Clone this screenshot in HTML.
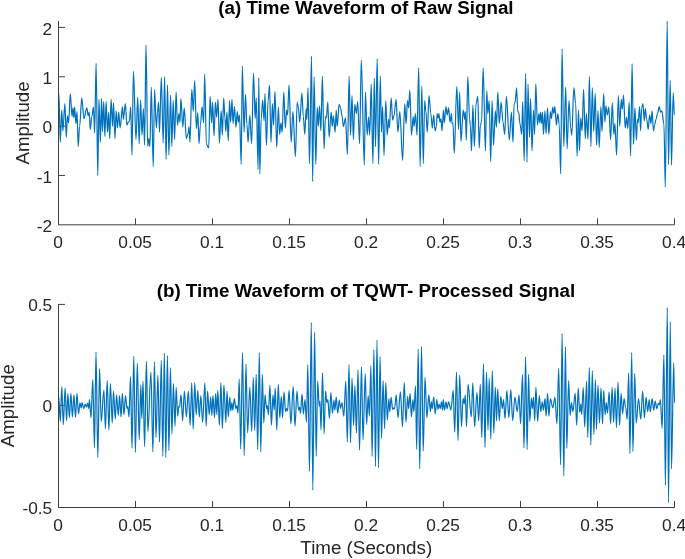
<!DOCTYPE html>
<html><head><meta charset="utf-8"><style>
html,body{margin:0;padding:0;background:#fff;}
svg{display:block;will-change:transform;}
text{font-family:"Liberation Sans",sans-serif;fill:#262626;}
.tk{font-size:17.3px;}
.lb{font-size:18.7px;}
.xl{font-size:18.8px;}
.ti{font-size:18.8px;font-weight:bold;fill:#000;}
</style></head><body>
<svg width="685" height="559" viewBox="0 0 685 559">
<rect width="685" height="559" fill="#fff"/>
<path d="M58.5,21.0V224.8H674.5" fill="none" stroke="#404040" stroke-width="1"/>
<line x1="58.5" y1="224.8" x2="58.5" y2="218.3" stroke="#404040" stroke-width="1"/>
<line x1="135.5" y1="224.8" x2="135.5" y2="218.3" stroke="#404040" stroke-width="1"/>
<line x1="212.5" y1="224.8" x2="212.5" y2="218.3" stroke="#404040" stroke-width="1"/>
<line x1="289.5" y1="224.8" x2="289.5" y2="218.3" stroke="#404040" stroke-width="1"/>
<line x1="366.5" y1="224.8" x2="366.5" y2="218.3" stroke="#404040" stroke-width="1"/>
<line x1="443.5" y1="224.8" x2="443.5" y2="218.3" stroke="#404040" stroke-width="1"/>
<line x1="520.5" y1="224.8" x2="520.5" y2="218.3" stroke="#404040" stroke-width="1"/>
<line x1="597.5" y1="224.8" x2="597.5" y2="218.3" stroke="#404040" stroke-width="1"/>
<line x1="674.5" y1="224.8" x2="674.5" y2="218.3" stroke="#404040" stroke-width="1"/>
<line x1="58.5" y1="175.45000000000002" x2="65.0" y2="175.45000000000002" stroke="#404040" stroke-width="1"/>
<line x1="58.5" y1="126.10000000000001" x2="65.0" y2="126.10000000000001" stroke="#404040" stroke-width="1"/>
<line x1="58.5" y1="76.75" x2="65.0" y2="76.75" stroke="#404040" stroke-width="1"/>
<line x1="58.5" y1="27.400000000000006" x2="65.0" y2="27.400000000000006" stroke="#404040" stroke-width="1"/>
<path d="M58.5,304.0V507.5H674.5" fill="none" stroke="#404040" stroke-width="1"/>
<line x1="58.5" y1="507.5" x2="58.5" y2="501.0" stroke="#404040" stroke-width="1"/>
<line x1="135.5" y1="507.5" x2="135.5" y2="501.0" stroke="#404040" stroke-width="1"/>
<line x1="212.5" y1="507.5" x2="212.5" y2="501.0" stroke="#404040" stroke-width="1"/>
<line x1="289.5" y1="507.5" x2="289.5" y2="501.0" stroke="#404040" stroke-width="1"/>
<line x1="366.5" y1="507.5" x2="366.5" y2="501.0" stroke="#404040" stroke-width="1"/>
<line x1="443.5" y1="507.5" x2="443.5" y2="501.0" stroke="#404040" stroke-width="1"/>
<line x1="520.5" y1="507.5" x2="520.5" y2="501.0" stroke="#404040" stroke-width="1"/>
<line x1="597.5" y1="507.5" x2="597.5" y2="501.0" stroke="#404040" stroke-width="1"/>
<line x1="674.5" y1="507.5" x2="674.5" y2="501.0" stroke="#404040" stroke-width="1"/>
<line x1="58.5" y1="405.4" x2="65.0" y2="405.4" stroke="#404040" stroke-width="1"/>
<line x1="58.5" y1="304.4" x2="65.0" y2="304.4" stroke="#404040" stroke-width="1"/>
<path d="M58.9,93.6 C59.38,93.6 59.78,142.2 60.3,142.2 C60.81,142.2 61.21,110.0 61.7,110.0 C62.14,110.0 62.46,130.8 62.9,130.8 C63.59,130.8 64.15,103.6 64.9,103.6 C65.39,103.6 65.79,137.2 66.3,137.2 C66.72,137.2 67.04,115.8 67.4,115.8 C67.86,115.8 68.18,122.9 68.6,122.9 C69.21,122.9 69.69,93.6 70.3,93.6 C70.93,93.6 71.41,116.5 72.0,116.5 C72.34,116.5 72.58,107.9 72.9,107.9 C73.25,107.9 73.53,117.9 73.9,117.9 C74.15,117.9 74.35,107.2 74.6,107.2 C75.12,107.2 75.52,123.6 76.0,123.6 C76.40,123.6 76.68,111.5 77.0,111.5 C77.45,111.5 77.77,146.5 78.2,146.5 C78.70,146.5 79.10,126.5 79.6,126.5 C80.39,126.5 80.99,97.9 81.8,97.9 C82.53,97.9 83.13,118.6 83.9,118.6 C84.94,118.6 85.74,107.9 86.8,107.9 C87.28,107.9 87.69,115.8 88.2,115.8 C88.56,115.8 88.84,112.2 89.2,112.2 C89.61,112.2 89.93,129.4 90.3,129.4 C90.86,129.4 91.26,116.5 91.8,116.5 C92.40,116.5 92.88,107.2 93.5,107.2 C93.91,107.2 94.23,132.9 94.6,132.9 C95.16,132.9 95.56,63.4 96.1,63.4 C96.69,63.4 97.17,175.7 97.8,175.7 C98.20,175.7 98.52,99.3 98.9,99.3 C99.45,99.3 99.85,142.2 100.4,142.2 C100.78,142.2 101.10,98.6 101.5,98.6 C101.87,98.6 102.15,131.5 102.5,131.5 C102.92,131.5 103.24,101.5 103.7,101.5 C104.12,101.5 104.48,136.5 104.9,136.5 C105.36,136.5 105.68,101.5 106.1,101.5 C106.60,101.5 107.01,132.2 107.5,132.2 C107.93,132.2 108.25,112.2 108.7,112.2 C109.03,112.2 109.31,138.7 109.7,138.7 C110.18,138.7 110.58,99.3 111.1,99.3 C111.61,99.3 112.01,126.5 112.5,126.5 C112.89,126.5 113.17,102.9 113.5,102.9 C114.05,102.9 114.45,138.7 115.0,138.7 C115.37,138.7 115.70,110.8 116.1,110.8 C116.62,110.8 117.02,127.9 117.5,127.9 C117.95,127.9 118.27,112.2 118.7,112.2 C119.20,112.2 119.60,127.9 120.1,127.9 C120.99,127.9 121.67,106.5 122.5,106.5 C122.81,106.5 123.01,119.3 123.3,119.3 C124.04,119.3 124.64,103.6 125.4,103.6 C125.92,103.6 126.33,125.1 126.8,125.1 C127.36,125.1 127.76,122.2 128.3,122.2 C128.63,122.2 128.91,121.5 129.3,121.5 C129.79,121.5 130.19,107.2 130.7,107.2 C131.17,107.2 131.53,155.1 132.0,155.1 C132.52,155.1 132.92,71.3 133.4,71.3 C134.36,71.3 135.08,139.4 136.0,139.4 C136.63,139.4 137.11,97.2 137.7,97.2 C138.24,97.2 138.64,143.7 139.2,143.7 C139.67,143.7 140.07,100.0 140.6,100.0 C141.10,100.0 141.50,135.1 142.0,135.1 C142.53,135.1 142.93,108.6 143.4,108.6 C143.86,108.6 144.18,145.1 144.6,145.1 C145.11,145.1 145.51,45.1 146.0,45.1 C146.64,45.1 147.12,146.5 147.7,146.5 C148.15,146.5 148.48,138.7 148.9,138.7 C149.25,138.7 149.53,146.5 149.9,146.5 C150.40,146.5 150.81,87.1 151.3,87.1 C151.99,87.1 152.51,166.6 153.2,166.6 C153.70,166.6 154.10,89.6 154.6,89.6 C155.23,89.6 155.71,127.9 156.3,127.9 C156.74,127.9 157.06,112.2 157.5,112.2 C157.83,112.2 158.12,102.2 158.5,102.2 C158.84,102.2 159.12,132.2 159.5,132.2 C160.15,132.2 160.67,77.6 161.3,77.6 C162.01,77.6 162.53,143.0 163.2,143.0 C163.71,143.0 164.11,76.7 164.6,76.7 C165.14,76.7 165.55,159.4 166.1,159.4 C166.58,159.4 166.98,85.0 167.5,85.0 C168.01,85.0 168.41,155.1 168.9,155.1 C169.54,155.1 170.02,95.0 170.6,95.0 C171.05,95.0 171.37,146.5 171.8,146.5 C172.30,146.5 172.70,100.7 173.2,100.7 C173.73,100.7 174.13,139.4 174.6,139.4 C175.16,139.4 175.56,92.2 176.1,92.2 C176.59,92.2 176.99,125.1 177.5,125.1 C178.03,125.1 178.43,113.6 178.9,113.6 C179.30,113.6 179.58,122.2 179.9,122.2 C180.30,122.2 180.58,98.6 180.9,98.6 C181.61,98.6 182.14,127.2 182.8,127.2 C183.32,127.2 183.72,107.9 184.2,107.9 C185.01,107.9 185.61,138.7 186.4,138.7 C187.00,138.7 187.48,133.7 188.1,133.7 C188.41,133.7 188.65,126.5 189.0,126.5 C189.32,126.5 189.60,142.2 190.0,142.2 C190.63,142.2 191.15,89.3 191.8,89.3 C192.34,89.3 192.74,111.5 193.3,111.5 C193.77,111.5 194.17,80.6 194.7,80.6 C195.30,80.6 195.78,128.6 196.4,128.6 C196.92,128.6 197.32,112.9 197.8,112.9 C198.24,112.9 198.56,143.7 199.0,143.7 C199.49,143.7 199.89,125.1 200.4,125.1 C201.03,125.1 201.51,106.5 202.1,106.5 C202.64,106.5 203.04,122.9 203.6,122.9 C203.97,122.9 204.29,74.0 204.7,74.0 C205.32,74.0 205.80,144.4 206.4,144.4 C207.25,144.4 207.89,148.0 208.7,148.0 C209.23,148.0 209.63,96.4 210.1,96.4 C210.66,96.4 211.06,122.9 211.6,122.9 C211.94,122.9 212.22,102.2 212.6,102.2 C213.09,102.2 213.50,135.8 214.0,135.8 C214.53,135.8 214.93,102.2 215.4,102.2 C215.85,102.2 216.17,117.2 216.6,117.2 C217.10,117.2 217.50,99.3 218.0,99.3 C218.53,99.3 218.93,143.0 219.4,143.0 C220.07,143.0 220.55,110.8 221.2,110.8 C221.58,110.8 221.90,135.1 222.3,135.1 C222.83,135.1 223.23,97.9 223.7,97.9 C224.15,97.9 224.48,117.9 224.9,117.9 C225.25,117.9 225.53,131.5 225.9,131.5 C226.25,131.5 226.53,112.2 226.9,112.2 C227.41,112.2 227.81,140.8 228.3,140.8 C228.73,140.8 229.05,100.7 229.5,100.7 C229.88,100.7 230.20,122.2 230.6,122.2 C231.13,122.2 231.53,99.3 232.0,99.3 C232.40,99.3 232.68,123.6 233.0,123.6 C233.56,123.6 233.96,106.5 234.5,106.5 C234.99,106.5 235.39,127.2 235.9,127.2 C236.42,127.2 236.82,111.5 237.3,111.5 C237.70,111.5 237.98,122.2 238.3,122.2 C238.75,122.2 239.07,115.1 239.5,115.1 C240.10,115.1 240.58,164.3 241.2,164.3 C241.61,164.3 241.93,66.1 242.3,66.1 C242.97,66.1 243.45,132.2 244.1,132.2 C244.58,132.2 244.98,94.3 245.5,94.3 C246.01,94.3 246.41,124.4 246.9,124.4 C247.34,124.4 247.66,142.2 248.1,142.2 C248.69,142.2 249.17,115.1 249.8,115.1 C250.46,115.1 250.98,143.7 251.6,143.7 C252.32,143.7 252.84,73.0 253.5,73.0 C254.13,73.0 254.61,118.6 255.2,118.6 C255.59,118.6 255.87,97.9 256.2,97.9 C256.90,97.9 257.42,169.4 258.1,169.4 C258.35,169.4 258.55,77.6 258.8,77.6 C259.17,77.6 259.45,173.9 259.8,173.9 C260.32,173.9 260.72,117.9 261.2,117.9 C261.75,117.9 262.15,100.0 262.7,100.0 C263.18,100.0 263.58,120.8 264.1,120.8 C264.41,120.8 264.65,93.6 265.0,93.6 C265.47,93.6 265.87,145.1 266.4,145.1 C267.01,145.1 267.49,100.7 268.1,100.7 C268.62,100.7 269.02,85.0 269.5,85.0 C270.05,85.0 270.45,142.2 271.0,142.2 C271.48,142.2 271.89,103.6 272.4,103.6 C272.81,103.6 273.13,125.1 273.5,125.1 C274.06,125.1 274.46,91.4 275.0,91.4 C275.59,91.4 276.08,147.3 276.7,147.3 C277.31,147.3 277.79,107.2 278.4,107.2 C278.82,107.2 279.14,134.4 279.6,134.4 C280.07,134.4 280.47,122.9 281.0,122.9 C281.40,122.9 281.72,132.2 282.1,132.2 C282.75,132.2 283.23,92.2 283.8,92.2 C284.36,92.2 284.77,127.9 285.3,127.9 C285.80,127.9 286.20,110.0 286.7,110.0 C287.02,110.0 287.27,115.1 287.6,115.1 C288.09,115.1 288.49,84.9 289.0,84.9 C289.78,84.9 290.38,142.2 291.2,142.2 C291.77,142.2 292.25,111.5 292.9,111.5 C293.80,111.5 294.52,156.6 295.4,156.6 C296.07,156.6 296.55,102.2 297.2,102.2 C297.58,102.2 297.90,106.5 298.3,106.5 C298.83,106.5 299.23,122.2 299.7,122.2 C300.52,122.2 301.12,92.9 301.9,92.9 C302.40,92.9 302.81,116.5 303.3,116.5 C303.84,116.5 304.24,134.4 304.8,134.4 C305.27,134.4 305.67,108.6 306.2,108.6 C306.44,108.6 306.64,119.3 306.9,119.3 C307.31,119.3 307.63,87.9 308.0,87.9 C308.56,87.9 308.96,163.6 309.5,163.6 C310.20,163.6 310.76,56.2 311.5,56.2 C311.89,56.2 312.21,181.6 312.6,181.6 C313.14,181.6 313.54,76.7 314.1,76.7 C314.67,76.7 315.15,164.4 315.8,164.4 C316.29,164.4 316.69,107.2 317.2,107.2 C317.61,107.2 317.93,126.5 318.3,126.5 C318.76,126.5 319.08,105.8 319.5,105.8 C320.01,105.8 320.41,130.8 320.9,130.8 C321.44,130.8 321.84,76.1 322.4,76.1 C322.97,76.1 323.45,148.7 324.1,148.7 C324.59,148.7 324.99,116.5 325.5,116.5 C325.81,116.5 326.05,117.9 326.4,117.9 C326.88,117.9 327.28,102.2 327.8,102.2 C328.26,102.2 328.62,137.2 329.1,137.2 C329.85,137.2 330.45,112.2 331.2,112.2 C331.59,112.2 331.87,126.5 332.2,126.5 C332.64,126.5 332.96,115.8 333.4,115.8 C333.99,115.8 334.47,132.2 335.1,132.2 C335.50,132.2 335.82,110.0 336.2,110.0 C336.60,110.0 336.88,126.5 337.2,126.5 C337.91,126.5 338.43,104.3 339.1,104.3 C339.61,104.3 340.01,107.9 340.5,107.9 C341.04,107.9 341.45,115.8 342.0,115.8 C342.48,115.8 342.88,126.5 343.4,126.5 C344.16,126.5 344.77,117.9 345.5,117.9 C346.21,117.9 346.73,154.4 347.4,154.4 C348.02,154.4 348.50,76.1 349.1,76.1 C349.63,76.1 350.03,135.1 350.5,135.1 C351.06,135.1 351.46,95.7 352.0,95.7 C352.49,95.7 352.89,139.4 353.4,139.4 C353.92,139.4 354.33,104.3 354.8,104.3 C355.36,104.3 355.76,113.6 356.3,113.6 C356.79,113.6 357.19,101.5 357.7,101.5 C358.37,101.5 358.89,143.7 359.6,143.7 C360.18,143.7 360.66,60.1 361.3,60.1 C362.37,60.1 363.21,165.0 364.3,165.0 C364.71,165.0 365.03,92.2 365.4,92.2 C366.06,92.2 366.54,135.1 367.2,135.1 C367.67,135.1 368.07,117.2 368.6,117.2 C369.00,117.2 369.32,135.1 369.7,135.1 C370.25,135.1 370.65,84.1 371.2,84.1 C371.78,84.1 372.26,163.6 372.9,163.6 C373.40,163.6 373.80,78.1 374.3,78.1 C374.72,78.1 375.04,146.5 375.5,146.5 C376.07,146.5 376.56,58.5 377.2,58.5 C377.69,58.5 378.09,164.4 378.6,164.4 C379.22,164.4 379.70,75.8 380.3,75.8 C380.73,75.8 381.05,132.2 381.5,132.2 C381.88,132.2 382.20,106.5 382.6,106.5 C383.13,106.5 383.53,155.4 384.0,155.4 C384.66,155.4 385.14,100.7 385.8,100.7 C386.28,100.7 386.68,135.1 387.2,135.1 C387.71,135.1 388.11,119.3 388.6,119.3 C388.88,119.3 389.08,127.9 389.3,127.9 C390.01,127.9 390.53,97.9 391.2,97.9 C391.71,97.9 392.11,120.1 392.6,120.1 C393.14,120.1 393.55,115.1 394.1,115.1 C394.78,115.1 395.34,99.3 396.1,99.3 C396.73,99.3 397.26,132.2 397.9,132.2 C398.59,132.2 399.12,111.5 399.8,111.5 C400.82,111.5 401.62,160.4 402.6,160.4 C403.37,160.4 403.93,103.6 404.7,103.6 C405.17,103.6 405.57,123.6 406.1,123.6 C406.60,123.6 407.00,100.7 407.5,100.7 C407.93,100.7 408.25,107.9 408.7,107.9 C409.07,107.9 409.39,90.0 409.8,90.0 C410.42,90.0 410.90,135.1 411.5,135.1 C412.14,135.1 412.62,116.5 413.2,116.5 C413.55,116.5 413.79,126.5 414.1,126.5 C414.61,126.5 415.01,113.6 415.5,113.6 C416.04,113.6 416.44,135.1 417.0,135.1 C417.58,135.1 418.06,67.5 418.7,67.5 C419.19,67.5 419.59,166.4 420.1,166.4 C420.73,166.4 421.21,86.0 421.8,86.0 C422.34,86.0 422.74,163.6 423.3,163.6 C423.77,163.6 424.17,100.7 424.7,100.7 C425.10,100.7 425.42,110.8 425.8,110.8 C426.35,110.8 426.75,132.2 427.3,132.2 C427.88,132.2 428.36,95.7 429.0,95.7 C429.65,95.7 430.17,113.6 430.8,113.6 C431.36,113.6 431.76,127.9 432.3,127.9 C432.79,127.9 433.19,115.1 433.7,115.1 C434.22,115.1 434.62,130.8 435.1,130.8 C435.60,130.8 435.96,126.5 436.4,126.5 C436.69,126.5 436.89,113.6 437.1,113.6 C437.51,113.6 437.79,117.9 438.1,117.9 C438.40,117.9 438.60,113.6 438.9,113.6 C439.27,113.6 439.59,122.2 440.0,122.2 C440.37,122.2 440.65,118.6 441.0,118.6 C441.37,118.6 441.65,130.8 442.0,130.8 C442.53,130.8 442.93,110.0 443.4,110.0 C443.75,110.0 443.99,122.9 444.3,122.9 C444.92,122.9 445.40,106.5 446.0,106.5 C446.43,106.5 446.75,115.1 447.2,115.1 C447.68,115.1 448.08,107.9 448.6,107.9 C449.11,107.9 449.51,122.2 450.0,122.2 C450.54,122.2 450.94,113.6 451.5,113.6 C451.66,113.6 451.82,123.6 452.0,123.6 C452.34,123.6 452.58,122.9 452.9,122.9 C453.40,122.9 453.80,153.0 454.3,153.0 C455.19,153.0 455.88,86.4 456.8,86.4 C457.42,86.4 457.94,129.4 458.6,129.4 C458.97,129.4 459.25,92.2 459.6,92.2 C460.13,92.2 460.53,141.5 461.0,141.5 C461.82,141.5 462.42,110.0 463.2,110.0 C463.71,110.0 464.11,119.3 464.6,119.3 C464.88,119.3 465.08,111.5 465.3,111.5 C465.70,111.5 465.98,140.1 466.3,140.1 C466.86,140.1 467.26,76.7 467.8,76.7 C468.44,76.7 468.96,119.3 469.6,119.3 C469.89,119.3 470.09,125.1 470.3,125.1 C470.76,125.1 471.08,150.8 471.5,150.8 C472.01,150.8 472.41,105.0 472.9,105.0 C473.44,105.0 473.84,146.5 474.4,146.5 C474.97,146.5 475.45,103.6 476.1,103.6 C476.69,103.6 477.17,96.4 477.8,96.4 C478.30,96.4 478.70,148.0 479.2,148.0 C479.63,148.0 479.95,125.1 480.4,125.1 C480.78,125.1 481.10,122.2 481.5,122.2 C482.13,122.2 482.61,67.5 483.2,67.5 C484.00,67.5 484.60,150.8 485.4,150.8 C485.89,150.8 486.29,90.7 486.8,90.7 C487.17,90.7 487.45,113.6 487.8,113.6 C488.32,113.6 488.72,100.7 489.2,100.7 C489.75,100.7 490.15,161.6 490.7,161.6 C491.18,161.6 491.58,100.7 492.1,100.7 C492.62,100.7 493.02,145.1 493.5,145.1 C494.20,145.1 494.72,110.8 495.4,110.8 C495.75,110.8 496.03,127.2 496.4,127.2 C496.91,127.2 497.31,92.2 497.8,92.2 C498.34,92.2 498.74,123.6 499.3,123.6 C499.93,123.6 500.45,102.2 501.1,102.2 C501.79,102.2 502.31,122.2 503.0,122.2 C503.59,122.2 504.08,134.4 504.7,134.4 C505.31,134.4 505.79,96.4 506.4,96.4 C507.44,96.4 508.24,140.1 509.3,140.1 C510.05,140.1 510.65,112.2 511.4,112.2 C511.99,112.2 512.43,142.2 513.0,142.2 C513.41,142.2 513.73,103.6 514.1,103.6 C514.51,103.6 514.79,102.2 515.1,102.2 C515.66,102.2 516.06,87.9 516.6,87.9 C516.99,87.9 517.31,110.8 517.7,110.8 C518.14,110.8 518.46,112.9 518.9,112.9 C519.23,112.9 519.51,123.6 519.9,123.6 C520.54,123.6 521.06,134.4 521.7,134.4 C522.09,134.4 522.37,101.5 522.7,101.5 C523.25,101.5 523.65,160.6 524.2,160.6 C524.68,160.6 525.08,73.6 525.6,73.6 C526.11,73.6 526.51,162.1 527.0,162.1 C527.39,162.1 527.67,84.1 528.0,84.1 C528.54,84.1 528.94,137.2 529.5,137.2 C529.87,137.2 530.19,98.6 530.6,98.6 C531.12,98.6 531.52,150.8 532.0,150.8 C532.55,150.8 532.95,110.0 533.5,110.0 C533.88,110.0 534.20,134.4 534.6,134.4 C535.02,134.4 535.34,83.9 535.8,83.9 C536.37,83.9 536.86,125.1 537.5,125.1 C537.99,125.1 538.39,113.6 538.9,113.6 C539.27,113.6 539.55,122.9 539.9,122.9 C540.16,122.9 540.36,112.2 540.6,112.2 C541.03,112.2 541.36,123.6 541.8,123.6 C542.03,123.6 542.23,112.2 542.5,112.2 C542.84,112.2 543.12,134.4 543.5,134.4 C544.00,134.4 544.40,110.8 544.9,110.8 C545.33,110.8 545.65,133.7 546.1,133.7 C546.58,133.7 546.98,107.9 547.5,107.9 C548.01,107.9 548.41,134.4 548.9,134.4 C549.44,134.4 549.84,111.5 550.4,111.5 C550.71,111.5 551.00,118.6 551.4,118.6 C551.87,118.6 552.27,107.2 552.8,107.2 C553.15,107.2 553.43,113.6 553.8,113.6 C554.20,113.6 554.52,106.5 554.9,106.5 C555.45,106.5 555.85,125.1 556.4,125.1 C556.88,125.1 557.28,113.6 557.8,113.6 C558.31,113.6 558.71,124.4 559.2,124.4 C559.74,124.4 560.14,174.0 560.7,174.0 C561.17,174.0 561.57,48.9 562.1,48.9 C562.71,48.9 563.19,146.5 563.8,146.5 C564.48,146.5 565.00,87.0 565.7,87.0 C566.18,87.0 566.58,148.7 567.1,148.7 C567.77,148.7 568.29,100.7 569.0,100.7 C569.58,100.7 570.06,127.9 570.7,127.9 C571.09,127.9 571.41,135.1 571.8,135.1 C572.54,135.1 573.10,87.9 573.8,87.9 C574.49,87.9 575.02,103.6 575.7,103.6 C576.20,103.6 576.60,156.1 577.1,156.1 C577.63,156.1 578.03,110.0 578.5,110.0 C578.91,110.0 579.19,150.8 579.5,150.8 C579.96,150.8 580.28,117.9 580.7,117.9 C581.21,117.9 581.61,130.8 582.1,130.8 C582.64,130.8 583.04,89.4 583.6,89.4 C584.17,89.4 584.66,138.7 585.3,138.7 C585.69,138.7 586.01,113.6 586.4,113.6 C586.99,113.6 587.43,139.4 588.0,139.4 C588.52,139.4 588.92,76.6 589.4,76.6 C589.95,76.6 590.35,146.5 590.9,146.5 C591.38,146.5 591.78,87.9 592.3,87.9 C592.81,87.9 593.21,131.5 593.7,131.5 C594.24,131.5 594.64,93.3 595.2,93.3 C595.67,93.3 596.07,145.1 596.6,145.1 C597.10,145.1 597.50,110.8 598.0,110.8 C598.43,110.8 598.75,147.3 599.2,147.3 C599.78,147.3 600.26,106.5 600.9,106.5 C601.29,106.5 601.61,131.5 602.0,131.5 C602.64,131.5 603.12,93.6 603.7,93.6 C604.15,93.6 604.48,122.2 604.9,122.2 C605.25,122.2 605.53,105.8 605.9,105.8 C606.40,105.8 606.81,115.1 607.3,115.1 C607.84,115.1 608.24,107.2 608.8,107.2 C609.42,107.2 609.94,139.4 610.6,139.4 C611.23,139.4 611.71,102.9 612.3,102.9 C612.84,102.9 613.25,134.4 613.8,134.4 C614.17,134.4 614.49,123.6 614.9,123.6 C615.52,123.6 616.00,155.1 616.6,155.1 C617.24,155.1 617.72,95.7 618.3,95.7 C618.86,95.7 619.26,126.5 619.8,126.5 C620.29,126.5 620.69,99.3 621.2,99.3 C621.61,99.3 621.93,109.3 622.3,109.3 C622.76,109.3 623.08,95.0 623.5,95.0 C624.11,95.0 624.59,127.9 625.2,127.9 C625.72,127.9 626.13,117.2 626.6,117.2 C627.05,117.2 627.37,128.6 627.8,128.6 C628.30,128.6 628.70,102.2 629.2,102.2 C629.73,102.2 630.13,155.8 630.6,155.8 C631.16,155.8 631.56,63.5 632.1,63.5 C632.59,63.5 632.99,144.4 633.5,144.4 C634.03,144.4 634.43,107.9 634.9,107.9 C635.46,107.9 635.86,140.1 636.4,140.1 C636.75,140.1 637.05,119.3 637.4,119.3 C637.69,119.3 637.89,122.9 638.1,122.9 C638.66,122.9 639.06,106.5 639.6,106.5 C639.94,106.5 640.22,130.8 640.6,130.8 C640.99,130.8 641.31,107.9 641.7,107.9 C642.14,107.9 642.46,103.6 642.9,103.6 C643.38,103.6 643.79,120.8 644.3,120.8 C644.66,120.8 644.94,108.6 645.3,108.6 C645.82,108.6 646.22,119.3 646.7,119.3 C647.25,119.3 647.65,129.4 648.2,129.4 C648.68,129.4 649.08,115.1 649.6,115.1 C650.11,115.1 650.51,123.6 651.0,123.6 C651.39,123.6 651.67,110.8 652.0,110.8 C652.54,110.8 652.94,130.8 653.5,130.8 C653.87,130.8 654.19,125.1 654.6,125.1 C655.12,125.1 655.52,119.3 656.0,119.3 C656.55,119.3 656.95,113.6 657.5,113.6 C658.09,113.6 658.57,106.5 659.2,106.5 C659.70,106.5 660.10,112.2 660.6,112.2 C661.03,112.2 661.35,110.8 661.8,110.8 C662.53,110.8 663.13,123.6 663.9,123.6 C664.42,123.6 664.82,186.9 665.3,186.9 C666.01,186.9 666.53,21.0 667.2,21.0 C667.66,21.0 668.02,164.6 668.5,164.6 C669.10,164.6 669.59,80.3 670.2,80.3 C670.67,80.3 671.03,165.1 671.5,165.1 C672.11,165.1 672.59,92.9 673.2,92.9 C673.62,92.9 673.94,115.1 674.4,115.1" fill="none" stroke="#0072BD" stroke-width="1.2" stroke-linejoin="round"/>
<path d="M58.7,396.4 C59.28,396.4 59.71,421.5 60.3,421.5 C60.80,421.5 61.23,386.6 61.8,386.6 C62.32,386.6 62.75,424.6 63.3,424.6 C63.95,424.6 64.46,388.1 65.1,388.1 C65.67,388.1 66.09,420.8 66.6,420.8 C67.08,420.8 67.42,393.4 67.9,393.4 C68.40,393.4 68.83,417.7 69.4,417.7 C69.93,417.7 70.35,393.4 70.9,393.4 C71.45,393.4 71.87,417.0 72.4,417.0 C72.97,417.0 73.39,394.9 73.9,394.9 C74.49,394.9 74.91,417.7 75.5,417.7 C76.01,417.7 76.43,393.4 77.0,393.4 C77.53,393.4 77.95,413.9 78.5,413.9 C79.05,413.9 79.47,402.8 80.0,402.8 C80.40,402.8 80.70,407.8 81.1,407.8 C81.47,407.8 81.76,402.5 82.1,402.5 C82.70,402.5 83.12,408.6 83.7,408.6 C84.22,408.6 84.64,404.0 85.2,404.0 C85.63,404.0 85.97,407.1 86.4,407.1 C86.84,407.1 87.18,403.3 87.6,403.3 C88.00,403.3 88.30,408.6 88.7,408.6 C88.96,408.6 89.17,399.5 89.4,399.5 C89.99,399.5 90.42,417.7 91.0,417.7 C91.62,417.7 92.13,379.7 92.8,379.7 C93.39,379.7 93.86,447.7 94.5,447.7 C95.01,447.7 95.43,351.8 96.0,351.8 C96.64,351.8 97.15,457.6 97.8,457.6 C98.46,457.6 98.97,368.6 99.6,368.6 C100.18,368.6 100.60,421.5 101.2,421.5 C102.14,421.5 102.90,390.4 103.9,390.4 C104.43,390.4 104.86,428.7 105.4,428.7 C106.06,428.7 106.57,380.5 107.2,380.5 C107.83,380.5 108.30,429.9 108.9,429.9 C109.45,429.9 109.88,383.5 110.4,383.5 C111.08,383.5 111.59,423.0 112.2,423.0 C112.69,423.0 113.03,391.1 113.5,391.1 C114.12,391.1 114.63,419.2 115.3,419.2 C115.73,419.2 116.07,394.9 116.5,394.9 C117.16,394.9 117.67,415.4 118.3,415.4 C118.77,415.4 119.11,395.7 119.5,395.7 C120.09,395.7 120.52,417.0 121.1,417.0 C121.50,417.0 121.84,393.4 122.3,393.4 C122.88,393.4 123.35,414.7 124.0,414.7 C124.50,414.7 124.93,395.7 125.5,395.7 C126.02,395.7 126.45,408.6 127.0,408.6 C127.27,408.6 127.48,406.3 127.8,406.3 C128.19,406.3 128.53,417.0 129.0,417.0 C129.52,417.0 129.94,376.7 130.5,376.7 C131.04,376.7 131.46,448.3 132.0,448.3 C132.67,448.3 133.18,356.2 133.8,356.2 C134.38,356.2 134.81,452.5 135.4,452.5 C136.07,452.5 136.62,363.2 137.3,363.2 C137.99,363.2 138.50,439.8 139.2,439.8 C139.73,439.8 140.18,385.0 140.8,385.0 C141.14,385.0 141.44,418.5 141.8,418.5 C142.26,418.5 142.60,381.2 143.0,381.2 C143.59,381.2 144.01,446.6 144.6,446.6 C145.22,446.6 145.73,361.0 146.4,361.0 C146.93,361.0 147.36,431.4 147.9,431.4 C149.00,431.4 149.85,372.1 150.9,372.1 C151.66,372.1 152.21,451.9 152.9,451.9 C153.47,451.9 153.89,361.9 154.4,361.9 C154.99,361.9 155.42,437.5 156.0,437.5 C156.67,437.5 157.23,375.2 157.9,375.2 C158.49,375.2 158.91,442.1 159.5,442.1 C160.12,442.1 160.63,360.3 161.3,360.3 C161.83,360.3 162.26,456.5 162.8,456.5 C163.35,456.5 163.78,353.1 164.3,353.1 C164.87,353.1 165.30,457.6 165.8,457.6 C166.39,457.6 166.82,355.6 167.4,355.6 C167.91,355.6 168.34,450.6 168.9,450.6 C169.43,450.6 169.86,367.7 170.4,367.7 C170.95,367.7 171.38,433.7 171.9,433.7 C172.47,433.7 172.90,383.5 173.4,383.5 C173.99,383.5 174.42,426.1 175.0,426.1 C175.40,426.1 175.74,387.3 176.2,387.3 C176.73,387.3 177.15,416.2 177.7,416.2 C178.08,416.2 178.38,406.3 178.8,406.3 C179.04,406.3 179.25,407.1 179.5,407.1 C180.07,407.1 180.50,394.9 181.0,394.9 C181.59,394.9 182.02,420.8 182.6,420.8 C183.22,420.8 183.73,391.1 184.4,391.1 C185.10,391.1 185.66,417.0 186.4,417.0 C187.08,417.0 187.63,391.1 188.3,391.1 C189.00,391.1 189.51,425.3 190.2,425.3 C190.71,425.3 191.14,382.8 191.7,382.8 C192.23,382.8 192.66,429.1 193.2,429.1 C193.75,429.1 194.18,382.8 194.7,382.8 C195.28,382.8 195.70,414.7 196.2,414.7 C196.80,414.7 197.22,390.4 197.8,390.4 C198.32,390.4 198.74,417.0 199.3,417.0 C199.84,417.0 200.26,395.7 200.8,395.7 C201.47,395.7 201.98,422.3 202.6,422.3 C203.45,422.3 204.09,382.8 204.9,382.8 C205.35,382.8 205.69,426.1 206.1,426.1 C206.68,426.1 207.10,391.1 207.6,391.1 C208.20,391.1 208.62,414.7 209.2,414.7 C209.72,414.7 210.14,397.2 210.7,397.2 C211.07,397.2 211.37,415.4 211.8,415.4 C212.19,415.4 212.53,395.7 213.0,395.7 C213.52,395.7 213.94,417.7 214.5,417.7 C214.93,417.7 215.27,393.4 215.7,393.4 C216.09,393.4 216.39,414.7 216.8,414.7 C217.15,414.7 217.45,390.4 217.8,390.4 C218.38,390.4 218.81,425.3 219.4,425.3 C219.90,425.3 220.33,382.8 220.9,382.8 C221.42,382.8 221.85,428.4 222.4,428.4 C222.94,428.4 223.37,385.0 223.9,385.0 C224.60,385.0 225.14,422.3 225.8,422.3 C226.26,422.3 226.60,391.1 227.0,391.1 C227.48,391.1 227.82,417.0 228.3,417.0 C228.80,417.0 229.23,397.2 229.8,397.2 C230.16,397.2 230.46,410.9 230.8,410.9 C231.22,410.9 231.52,402.5 231.9,402.5 C232.23,402.5 232.49,410.1 232.8,410.1 C233.36,410.1 233.79,398.7 234.3,398.7 C234.88,398.7 235.31,408.6 235.9,408.6 C236.24,408.6 236.54,405.6 236.9,405.6 C237.30,405.6 237.60,413.2 238.0,413.2 C238.42,413.2 238.76,379.0 239.2,379.0 C239.75,379.0 240.18,449.0 240.7,449.0 C241.38,449.0 241.89,352.7 242.5,352.7 C243.15,352.7 243.62,455.6 244.2,455.6 C244.88,455.6 245.39,364.1 246.0,364.1 C246.59,364.1 247.02,432.9 247.6,432.9 C248.38,432.9 249.02,387.3 249.8,387.3 C250.50,387.3 251.01,431.4 251.7,431.4 C252.27,431.4 252.74,377.4 253.3,377.4 C253.83,377.4 254.22,430.6 254.7,430.6 C255.26,430.6 255.68,374.4 256.2,374.4 C256.78,374.4 257.20,449.7 257.7,449.7 C258.30,449.7 258.72,352.7 259.3,352.7 C259.82,352.7 260.24,451.9 260.8,451.9 C261.34,451.9 261.76,374.4 262.3,374.4 C262.86,374.4 263.28,423.0 263.8,423.0 C264.27,423.0 264.61,394.9 265.0,394.9 C265.59,394.9 266.02,408.6 266.6,408.6 C266.84,408.6 267.05,405.6 267.3,405.6 C267.71,405.6 268.01,414.7 268.4,414.7 C268.94,414.7 269.36,385.0 269.9,385.0 C270.46,385.0 270.88,425.3 271.4,425.3 C271.98,425.3 272.40,394.9 273.0,394.9 C273.39,394.9 273.73,410.1 274.2,410.1 C274.55,410.1 274.85,388.1 275.2,388.1 C275.78,388.1 276.20,429.9 276.8,429.9 C277.30,429.9 277.72,384.3 278.3,384.3 C278.82,384.3 279.24,417.7 279.8,417.7 C280.34,417.7 280.76,396.4 281.3,396.4 C281.75,396.4 282.09,417.7 282.5,417.7 C283.08,417.7 283.50,391.9 284.0,391.9 C284.60,391.9 285.02,411.6 285.6,411.6 C285.95,411.6 286.25,408.6 286.6,408.6 C286.96,408.6 287.22,410.9 287.5,410.9 C288.09,410.9 288.52,390.4 289.1,390.4 C289.72,390.4 290.23,423.8 290.9,423.8 C291.71,423.8 292.35,386.6 293.2,386.6 C293.83,386.6 294.34,426.1 295.0,426.1 C295.71,426.1 296.26,391.1 297.0,391.1 C297.52,391.1 297.94,410.1 298.5,410.1 C298.87,410.1 299.17,407.1 299.6,407.1 C299.88,407.1 300.14,413.2 300.5,413.2 C301.01,413.2 301.44,394.2 302.0,394.2 C302.48,394.2 302.86,413.9 303.4,413.9 C303.96,413.9 304.43,399.5 305.0,399.5 C305.57,399.5 306.00,422.3 306.5,422.3 C307.00,422.3 307.35,364.7 307.8,364.7 C308.40,364.7 308.87,471.4 309.5,471.4 C310.13,471.4 310.64,322.6 311.3,322.6 C311.84,322.6 312.27,490.1 312.8,490.1 C313.47,490.1 313.98,332.4 314.6,332.4 C315.19,332.4 315.61,456.5 316.2,456.5 C316.71,456.5 317.13,381.2 317.7,381.2 C318.23,381.2 318.65,406.3 319.2,406.3 C319.48,406.3 319.69,401.0 320.0,401.0 C320.35,401.0 320.64,429.9 321.0,429.9 C321.57,429.9 322.00,372.9 322.5,372.9 C323.09,372.9 323.52,433.7 324.1,433.7 C324.61,433.7 325.04,391.1 325.6,391.1 C326.02,391.1 326.37,402.5 326.8,402.5 C327.19,402.5 327.48,399.5 327.9,399.5 C328.41,399.5 328.84,418.5 329.4,418.5 C329.93,418.5 330.36,392.6 330.9,392.6 C331.46,392.6 331.88,413.2 332.4,413.2 C332.98,413.2 333.40,400.2 333.9,400.2 C334.28,400.2 334.53,410.1 334.9,410.1 C335.35,410.1 335.74,397.2 336.2,397.2 C336.78,397.2 337.20,413.2 337.7,413.2 C338.30,413.2 338.72,400.2 339.3,400.2 C339.71,400.2 340.05,408.6 340.5,408.6 C341.03,408.6 341.46,402.5 342.0,402.5 C342.66,402.5 343.17,416.2 343.8,416.2 C344.54,416.2 345.09,381.2 345.8,381.2 C346.35,381.2 346.78,442.1 347.3,442.1 C347.93,442.1 348.40,364.5 349.0,364.5 C349.55,364.5 349.97,442.8 350.5,442.8 C351.07,442.8 351.49,378.2 352.0,378.2 C352.59,378.2 353.01,425.3 353.6,425.3 C354.05,425.3 354.43,385.8 354.9,385.8 C355.47,385.8 355.90,432.9 356.4,432.9 C356.99,432.9 357.42,369.8 358.0,369.8 C358.52,369.8 358.94,450.1 359.5,450.1 C360.20,450.1 360.75,366.8 361.5,366.8 C362.01,366.8 362.44,439.8 363.0,439.8 C363.81,439.8 364.44,373.6 365.3,373.6 C365.76,373.6 366.14,424.6 366.6,424.6 C367.18,424.6 367.61,395.7 368.2,395.7 C368.59,395.7 368.93,416.2 369.4,416.2 C369.92,416.2 370.34,365.6 370.9,365.6 C371.33,365.6 371.67,456.5 372.1,456.5 C372.76,456.5 373.27,349.6 373.9,349.6 C374.48,349.6 374.90,466.5 375.5,466.5 C376.00,466.5 376.42,340.0 377.0,340.0 C377.52,340.0 377.94,467.7 378.5,467.7 C379.04,467.7 379.46,356.6 380.0,356.6 C380.56,356.6 380.98,438.3 381.5,438.3 C382.08,438.3 382.50,380.5 383.1,380.5 C383.60,380.5 384.02,428.4 384.6,428.4 C385.02,428.4 385.37,382.5 385.8,382.5 C386.37,382.5 386.80,420.0 387.3,420.0 C387.89,420.0 388.32,398.7 388.9,398.7 C389.19,398.7 389.45,411.6 389.8,411.6 C390.27,411.6 390.65,397.2 391.1,397.2 C391.69,397.2 392.12,409.4 392.7,409.4 C393.10,409.4 393.44,407.8 393.9,407.8 C394.16,407.8 394.37,408.6 394.6,408.6 C395.19,408.6 395.61,394.9 396.2,394.9 C396.82,394.9 397.33,417.7 398.0,417.7 C398.86,417.7 399.54,391.9 400.4,391.9 C401.18,391.9 401.78,426.8 402.5,426.8 C403.15,426.8 403.62,382.5 404.2,382.5 C404.88,382.5 405.39,422.3 406.0,422.3 C406.59,422.3 407.02,396.4 407.6,396.4 C407.95,396.4 408.24,408.6 408.6,408.6 C409.17,408.6 409.60,393.4 410.1,393.4 C410.59,393.4 410.93,417.0 411.4,417.0 C411.91,417.0 412.34,399.5 412.9,399.5 C413.27,399.5 413.57,411.6 413.9,411.6 C414.50,411.6 414.92,385.8 415.5,385.8 C415.91,385.8 416.25,449.5 416.7,449.5 C417.23,449.5 417.66,349.0 418.2,349.0 C418.75,349.0 419.18,468.7 419.7,468.7 C420.38,468.7 420.89,346.6 421.5,346.6 C422.15,346.6 422.62,451.2 423.2,451.2 C423.88,451.2 424.39,377.4 425.0,377.4 C425.70,377.4 426.21,417.7 426.9,417.7 C427.58,417.7 428.13,394.9 428.8,394.9 C429.39,394.9 429.82,411.6 430.4,411.6 C430.75,411.6 431.05,401.8 431.4,401.8 C431.76,401.8 432.01,408.6 432.3,408.6 C432.84,408.6 433.22,397.2 433.7,397.2 C434.26,397.2 434.68,413.9 435.2,413.9 C435.78,413.9 436.20,399.5 436.8,399.5 C437.19,399.5 437.53,409.4 438.0,409.4 C438.35,409.4 438.65,404.0 439.0,404.0 C439.47,404.0 439.81,408.6 440.2,408.6 C440.69,408.6 441.03,401.8 441.5,401.8 C441.85,401.8 442.15,410.1 442.5,410.1 C442.80,410.1 443.01,399.5 443.3,399.5 C443.73,399.5 444.07,410.1 444.5,410.1 C445.05,410.1 445.48,401.8 446.0,401.8 C446.41,401.8 446.71,408.6 447.1,408.6 C447.64,408.6 448.06,401.8 448.6,401.8 C449.43,401.8 450.07,410.1 450.9,410.1 C451.71,410.1 452.35,390.4 453.2,390.4 C453.72,390.4 454.14,432.2 454.7,432.2 C455.35,432.2 455.86,372.1 456.5,372.1 C457.06,372.1 457.49,440.5 458.0,440.5 C458.64,440.5 459.10,375.2 459.7,375.2 C460.36,375.2 460.87,426.8 461.5,426.8 C462.08,426.8 462.50,398.0 463.1,398.0 C463.49,398.0 463.83,404.0 464.3,404.0 C464.65,404.0 464.95,394.9 465.3,394.9 C465.77,394.9 466.11,426.8 466.5,426.8 C467.10,426.8 467.52,384.3 468.1,384.3 C469.23,384.3 470.13,417.0 471.3,417.0 C471.84,417.0 472.27,382.8 472.8,382.8 C473.47,382.8 473.98,426.8 474.6,426.8 C475.46,426.8 476.10,392.6 476.9,392.6 C477.58,392.6 478.09,420.8 478.7,420.8 C479.29,420.8 479.72,384.3 480.3,384.3 C480.81,384.3 481.24,437.5 481.8,437.5 C482.39,437.5 482.86,363.8 483.5,363.8 C484.01,363.8 484.43,447.4 485.0,447.4 C485.53,447.4 485.95,372.4 486.5,372.4 C487.05,372.4 487.47,429.9 488.0,429.9 C488.46,429.9 488.80,378.2 489.2,378.2 C489.78,378.2 490.21,439.0 490.8,439.0 C491.30,439.0 491.73,370.9 492.3,370.9 C492.82,370.9 493.25,432.9 493.8,432.9 C494.34,432.9 494.77,387.3 495.3,387.3 C495.75,387.3 496.09,420.8 496.5,420.8 C496.97,420.8 497.31,388.8 497.7,388.8 C498.30,388.8 498.72,420.8 499.3,420.8 C499.82,420.8 500.24,396.4 500.8,396.4 C501.34,396.4 501.76,408.6 502.3,408.6 C502.75,408.6 503.09,399.5 503.5,399.5 C504.07,399.5 504.50,418.5 505.0,418.5 C505.70,418.5 506.21,390.4 506.9,390.4 C507.58,390.4 508.13,417.7 508.8,417.7 C509.56,417.7 510.11,389.6 510.8,389.6 C511.48,389.6 511.99,420.8 512.6,420.8 C513.47,420.8 514.11,397.2 514.9,397.2 C515.75,397.2 516.39,411.6 517.2,411.6 C517.86,411.6 518.38,394.9 519.0,394.9 C519.58,394.9 520.00,423.8 520.6,423.8 C521.26,423.8 521.82,374.4 522.5,374.4 C523.08,374.4 523.50,448.1 524.0,448.1 C524.60,448.1 525.02,356.5 525.6,356.5 C526.12,356.5 526.54,449.7 527.1,449.7 C527.64,449.7 528.06,374.4 528.6,374.4 C529.05,374.4 529.39,421.5 529.8,421.5 C530.37,421.5 530.80,398.0 531.3,398.0 C531.73,398.0 532.03,408.6 532.4,408.6 C532.79,408.6 533.09,397.2 533.5,397.2 C533.91,397.2 534.25,420.8 534.7,420.8 C535.13,420.8 535.47,387.3 535.9,387.3 C536.56,387.3 537.07,421.5 537.7,421.5 C538.28,421.5 538.70,395.7 539.3,395.7 C539.80,395.7 540.22,411.6 540.8,411.6 C541.32,411.6 541.74,401.8 542.3,401.8 C542.73,401.8 543.07,410.1 543.5,410.1 C544.05,410.1 544.48,398.7 545.0,398.7 C545.41,398.7 545.71,416.2 546.1,416.2 C546.65,416.2 547.09,393.4 547.6,393.4 C548.09,393.4 548.43,416.2 548.9,416.2 C549.41,416.2 549.84,398.7 550.4,398.7 C551.26,398.7 551.94,407.8 552.8,407.8 C553.58,407.8 554.18,397.2 554.9,397.2 C555.66,397.2 556.21,423.8 556.9,423.8 C557.58,423.8 558.09,368.3 558.7,368.3 C559.40,368.3 559.91,464.9 560.6,464.9 C561.12,464.9 561.54,333.5 562.1,333.5 C562.69,333.5 563.16,475.8 563.8,475.8 C564.36,475.8 564.83,346.6 565.4,346.6 C565.93,346.6 566.31,448.4 566.8,448.4 C567.46,448.4 567.97,380.5 568.6,380.5 C569.17,380.5 569.60,415.4 570.1,415.4 C570.59,415.4 570.93,402.5 571.4,402.5 C571.91,402.5 572.34,411.6 572.9,411.6 C573.71,411.6 574.34,393.4 575.2,393.4 C575.71,393.4 576.14,425.3 576.7,425.3 C577.23,425.3 577.66,388.1 578.2,388.1 C578.75,388.1 579.18,412.4 579.7,412.4 C580.16,412.4 580.50,404.0 580.9,404.0 C581.21,404.0 581.43,414.7 581.7,414.7 C582.25,414.7 582.67,387.3 583.2,387.3 C583.77,387.3 584.19,426.8 584.7,426.8 C585.40,426.8 585.91,381.2 586.6,381.2 C587.00,381.2 587.34,437.5 587.8,437.5 C588.33,437.5 588.76,367.6 589.3,367.6 C589.85,367.6 590.28,445.1 590.8,445.1 C591.37,445.1 591.80,370.6 592.3,370.6 C592.89,370.6 593.32,434.5 593.9,434.5 C594.41,434.5 594.84,379.7 595.4,379.7 C595.77,379.7 596.06,429.1 596.4,429.1 C596.99,429.1 597.42,385.0 598.0,385.0 C598.52,385.0 598.94,423.0 599.5,423.0 C600.04,423.0 600.46,388.1 601.0,388.1 C601.56,388.1 601.98,423.8 602.5,423.8 C602.97,423.8 603.31,390.4 603.7,390.4 C604.24,390.4 604.62,414.7 605.1,414.7 C605.55,414.7 605.89,402.5 606.3,402.5 C606.77,402.5 607.11,413.2 607.5,413.2 C608.09,413.2 608.52,391.9 609.1,391.9 C609.61,391.9 610.04,423.8 610.6,423.8 C611.13,423.8 611.56,387.3 612.1,387.3 C612.65,387.3 613.08,422.3 613.6,422.3 C614.12,422.3 614.50,388.1 615.0,388.1 C615.54,388.1 615.97,427.6 616.5,427.6 C617.06,427.6 617.49,382.0 618.0,382.0 C618.58,382.0 619.01,425.3 619.6,425.3 C620.10,425.3 620.53,393.4 621.1,393.4 C621.62,393.4 622.05,413.9 622.6,413.9 C623.14,413.9 623.57,398.7 624.1,398.7 C624.66,398.7 625.09,407.1 625.6,407.1 C626.18,407.1 626.61,419.2 627.2,419.2 C627.70,419.2 628.13,372.9 628.7,372.9 C629.11,372.9 629.45,453.6 629.9,453.6 C630.55,453.6 631.06,352.5 631.7,352.5 C632.15,352.5 632.49,451.5 632.9,451.5 C633.57,451.5 634.07,373.6 634.7,373.6 C635.26,373.6 635.68,423.1 636.2,423.1 C637.05,423.1 637.69,398.7 638.5,398.7 C639.33,398.7 639.97,419.3 640.8,419.3 C641.45,419.3 641.96,391.1 642.6,391.1 C643.28,391.1 643.79,417.8 644.4,417.8 C645.05,417.8 645.52,397.2 646.1,397.2 C646.67,397.2 647.09,411.7 647.6,411.7 C648.19,411.7 648.61,399.5 649.2,399.5 C649.54,399.5 649.84,411.7 650.2,411.7 C650.94,411.7 651.49,398.7 652.2,398.7 C652.75,398.7 653.18,410.2 653.7,410.2 C654.27,410.2 654.70,401.0 655.2,401.0 C655.79,401.0 656.22,408.6 656.8,408.6 C657.31,408.6 657.74,403.3 658.3,403.3 C658.67,403.3 658.97,404.8 659.4,404.8 C659.74,404.8 660.03,399.5 660.4,399.5 C661.02,399.5 661.49,428.4 662.1,428.4 C662.75,428.4 663.26,354.8 663.9,354.8 C664.46,354.8 664.89,485.1 665.4,485.1 C666.09,485.1 666.61,307.6 667.3,307.6 C667.70,307.6 668.04,502.6 668.5,502.6 C669.14,502.6 669.65,321.9 670.3,321.9 C670.74,321.9 671.08,468.9 671.5,468.9 C672.29,468.9 672.88,363.0 673.7,363.0 C673.98,363.0 674.24,403.3 674.6,403.3" fill="none" stroke="#0072BD" stroke-width="1.2" stroke-linejoin="round"/>
<path d="M58.5,21.0V224.8" fill="none" stroke="#404040" stroke-width="1"/>
<path d="M58.5,304.0V507.5" fill="none" stroke="#404040" stroke-width="1"/>
<text transform="translate(58.10,247.90) scale(1,0.935)" text-anchor="middle" class="tk">0</text>
<text transform="translate(135.10,247.90) scale(1,0.935)" text-anchor="middle" class="tk">0.05</text>
<text transform="translate(212.10,247.90) scale(1,0.935)" text-anchor="middle" class="tk">0.1</text>
<text transform="translate(289.10,247.90) scale(1,0.935)" text-anchor="middle" class="tk">0.15</text>
<text transform="translate(366.10,247.90) scale(1,0.935)" text-anchor="middle" class="tk">0.2</text>
<text transform="translate(443.10,247.90) scale(1,0.935)" text-anchor="middle" class="tk">0.25</text>
<text transform="translate(520.10,247.90) scale(1,0.935)" text-anchor="middle" class="tk">0.3</text>
<text transform="translate(597.10,247.90) scale(1,0.935)" text-anchor="middle" class="tk">0.35</text>
<text transform="translate(674.10,247.90) scale(1,0.935)" text-anchor="middle" class="tk">0.4</text>
<text transform="translate(52.20,232.00) scale(1,0.935)" text-anchor="end" class="tk">-2</text>
<text transform="translate(52.20,182.65) scale(1,0.935)" text-anchor="end" class="tk">-1</text>
<text transform="translate(52.20,133.30) scale(1,0.935)" text-anchor="end" class="tk">0</text>
<text transform="translate(52.20,83.95) scale(1,0.935)" text-anchor="end" class="tk">1</text>
<text transform="translate(52.20,34.60) scale(1,0.935)" text-anchor="end" class="tk">2</text>
<text x="365.9" y="13.8" text-anchor="middle" class="ti">(a) Time Waveform of Raw Signal</text>
<text transform="translate(28.7,122.9) rotate(-90) scale(1,0.97)" text-anchor="middle" class="lb">Amplitude</text>
<text transform="translate(58.10,530.80) scale(1,0.935)" text-anchor="middle" class="tk">0</text>
<text transform="translate(135.10,530.80) scale(1,0.935)" text-anchor="middle" class="tk">0.05</text>
<text transform="translate(212.10,530.80) scale(1,0.935)" text-anchor="middle" class="tk">0.1</text>
<text transform="translate(289.10,530.80) scale(1,0.935)" text-anchor="middle" class="tk">0.15</text>
<text transform="translate(366.10,530.80) scale(1,0.935)" text-anchor="middle" class="tk">0.2</text>
<text transform="translate(443.10,530.80) scale(1,0.935)" text-anchor="middle" class="tk">0.25</text>
<text transform="translate(520.10,530.80) scale(1,0.935)" text-anchor="middle" class="tk">0.3</text>
<text transform="translate(597.10,530.80) scale(1,0.935)" text-anchor="middle" class="tk">0.35</text>
<text transform="translate(674.10,530.80) scale(1,0.935)" text-anchor="middle" class="tk">0.4</text>
<text transform="translate(52.20,514.00) scale(1,0.935)" text-anchor="end" class="tk">-0.5</text>
<text transform="translate(52.20,411.90) scale(1,0.935)" text-anchor="end" class="tk">0</text>
<text transform="translate(52.20,310.90) scale(1,0.935)" text-anchor="end" class="tk">0.5</text>
<text x="365.9" y="296.9" text-anchor="middle" class="ti">(b) Time Waveform of TQWT- Processed Signal</text>
<text transform="translate(14.1,405.75) rotate(-90) scale(1,0.97)" text-anchor="middle" class="lb">Amplitude</text>
<text x="366.3" y="553.95" text-anchor="middle" class="xl">Time (Seconds)</text>
</svg>
</body></html>
